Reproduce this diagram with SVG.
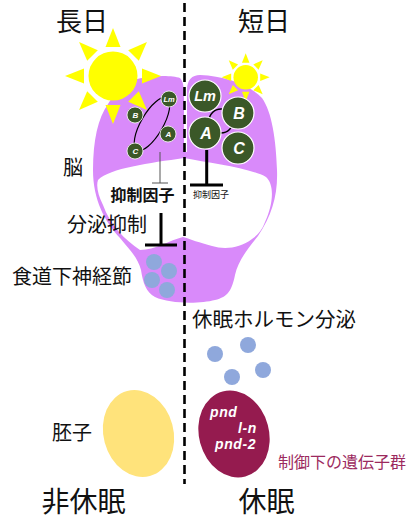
<svg xmlns="http://www.w3.org/2000/svg" xmlns:xlink="http://www.w3.org/1999/xlink" width="409" height="521" viewBox="0 0 409 521">
  <style>
    .jp { font-family: "Noto Sans CJK JP", "Noto Sans", sans-serif; fill: #111; }
    .lat { font-family: "Liberation Sans", Arial, sans-serif; font-weight: bold; font-style: italic; fill: #fff; }
    .gene { font-size: 14px; letter-spacing: 0.6px; }
    .brain { fill: #d98afa; }
    .neuron { fill: #3b5828; stroke: #fff; }
    .dot { fill: #8fa8dc; }
    .inhib { stroke: #000; stroke-width: 3; fill: none; }
  </style>
  <defs>
    <polygon id="ray" points="-7.5,-29 7.5,-29 0,-48" fill="#ffff00"/>
    <g id="sun">
      <circle r="24.5" fill="#ffff00"/>
      <use xlink:href="#ray"/>
      <use xlink:href="#ray" transform="rotate(45)"/>
      <use xlink:href="#ray" transform="rotate(90)"/>
      <use xlink:href="#ray" transform="rotate(135)"/>
      <use xlink:href="#ray" transform="rotate(180)"/>
      <use xlink:href="#ray" transform="rotate(225)"/>
      <use xlink:href="#ray" transform="rotate(270)"/>
      <use xlink:href="#ray" transform="rotate(315)"/>
    </g>
  </defs>

  <rect width="409" height="521" fill="#fff"/>

  <!-- brain and suboesophageal ganglion -->
  <g id="brain">
    <path class="brain" d="M 133,80 C 150,75 172,75 180,78 C 184,82 184,90 184,100 L 184,152 L 187,152 L 187,90 C 187,80 192,75 200,75
      C 225,76 250,85 262,98 C 272,112 276,140 277,170 C 278,195 272,215 258,236
      C 245,252 238,262 235,275 C 232,290 228,297 215,300 C 200,304 170,304 155,297
      C 146,292 143,283 141,270 C 138,258 130,250 120,238 C 105,222 93,200 93,170
      C 93,140 98,118 108,104 C 114,94 123,85 133,80 Z"/>
    <path fill="#fff" d="M 98,180 C 110,168 150,163 184,158 C 210,163 250,168 266,177
      C 275,185 273,205 265,222 C 262,230 258,235 252,239 C 240,248 225,250 212,246
      C 200,243 190,239 183,237 C 170,240 155,250 140,250 C 125,240 110,225 103,205
      C 98,195 96,186 98,180 Z"/>
  </g>

  <!-- suns -->
  <g id="sun-long">
    <use xlink:href="#sun" transform="translate(113,76)"/>
  </g>
  <g id="sun-short">
    <use xlink:href="#sun" transform="translate(245.7,77.3) scale(0.5)"/>
  </g>

  <!-- long-day clock neurons -->
  <g id="neurons-long">
    <ellipse cx="152" cy="124" rx="30" ry="11" transform="rotate(-60 152 124)" fill="none" stroke="#000" stroke-width="1.2"/>
    <circle class="neuron" cx="169" cy="99" r="8" stroke-width="0.8"/>
    <circle class="neuron" cx="135" cy="115" r="8" stroke-width="0.8"/>
    <circle class="neuron" cx="168" cy="134" r="8" stroke-width="0.8"/>
    <circle class="neuron" cx="135" cy="151" r="8" stroke-width="0.8"/>
    <text class="lat" font-size="7.5" x="169" y="101.7" text-anchor="middle">Lm</text>
    <text class="lat" font-size="8" x="135.5" y="117.8" text-anchor="middle">B</text>
    <text class="lat" font-size="8" x="168.5" y="136.8" text-anchor="middle">A</text>
    <text class="lat" font-size="8" x="135.5" y="153.8" text-anchor="middle">C</text>
  </g>

  <!-- short-day clock neurons -->
  <g id="neurons-short">
    <ellipse cx="221" cy="121" rx="12" ry="12" fill="none" stroke="#000" stroke-width="1.5"/>
    <circle class="neuron" cx="205" cy="96" r="16" stroke-width="1.2"/>
    <circle class="neuron" cx="238" cy="113" r="16" stroke-width="1.2"/>
    <circle class="neuron" cx="205" cy="133" r="16" stroke-width="1.2"/>
    <circle class="neuron" cx="238" cy="148" r="16" stroke-width="1.2"/>
    <text class="lat" font-size="14.5" x="205" y="101" text-anchor="middle">Lm</text>
    <text class="lat" font-size="16" x="239" y="119" text-anchor="middle">B</text>
    <text class="lat" font-size="16" x="206" y="139" text-anchor="middle">A</text>
    <text class="lat" font-size="16" x="239" y="154" text-anchor="middle">C</text>
  </g>

  <!-- inhibition connectors -->
  <g id="connectors">
    <path d="M 160,152 V 183 M 152,183 H 168" stroke="#555" stroke-width="1" fill="none"/>
    <path class="inhib" d="M 206.7,150 V 185 M 190,185 H 223"/>
    <path class="inhib" d="M 161,213 V 245 M 145,245 H 177"/>
  </g>

  <!-- neurosecretory cells -->
  <g id="ganglion-cells">
    <circle class="dot" cx="154" cy="262" r="8"/>
    <circle class="dot" cx="169" cy="271" r="8"/>
    <circle class="dot" cx="152" cy="280" r="8"/>
    <circle class="dot" cx="167" cy="290" r="8"/>
  </g>

  <!-- released hormone -->
  <g id="hormone">
    <circle class="dot" cx="215" cy="354" r="8"/>
    <circle class="dot" cx="248" cy="345" r="8"/>
    <circle class="dot" cx="232" cy="377" r="8"/>
    <circle class="dot" cx="263" cy="370" r="8"/>
  </g>

  <!-- embryos -->
  <g id="embryo-nondiapause">
    <ellipse cx="138.5" cy="433.5" rx="35" ry="44" transform="rotate(-15 138.5 433.5)" fill="#ffe37b"/>
  </g>
  <g id="embryo-diapause">
    <ellipse cx="234" cy="434" rx="35" ry="44" transform="rotate(-15 234 434)" fill="#951b4f"/>
    <text class="lat gene" x="210" y="417">pnd</text>
    <text class="lat gene" x="238" y="432.5">l-n</text>
    <text class="lat gene" x="215" y="448.5">pnd-2</text>
  </g>

  <!-- divider -->
  <line x1="184.5" y1="3" x2="184.5" y2="484" stroke="#000" stroke-width="2.6" stroke-dasharray="9,5"/>

  <!-- labels -->
  <g id="labels">
    <text class="jp" font-size="26" x="82" y="31" text-anchor="middle">長日</text>
    <text class="jp" font-size="26" x="264" y="31" text-anchor="middle">短日</text>
    <text class="jp" font-size="20" x="73" y="175" text-anchor="middle">脳</text>
    <text class="jp" font-size="16" font-weight="bold" x="142.5" y="201" text-anchor="middle">抑制因子</text>
    <text class="jp" font-size="9" x="211" y="198" text-anchor="middle">抑制因子</text>
    <text class="jp" font-size="20" x="107" y="232" text-anchor="middle">分泌抑制</text>
    <text class="jp" font-size="20" x="72" y="284" text-anchor="middle">食道下神経節</text>
    <text class="jp" font-size="20.5" x="192" y="327">休眠ホルモン分泌</text>
    <text class="jp" font-size="20" x="72" y="440" text-anchor="middle">胚子</text>
    <text class="jp" font-size="16" x="278" y="468" style="fill:#9c2a5e">制御下の遺伝子群</text>
    <text class="jp" font-size="28" x="83.5" y="512" text-anchor="middle">非休眠</text>
    <text class="jp" font-size="28" x="266.5" y="512" text-anchor="middle">休眠</text>
  </g>
</svg>
